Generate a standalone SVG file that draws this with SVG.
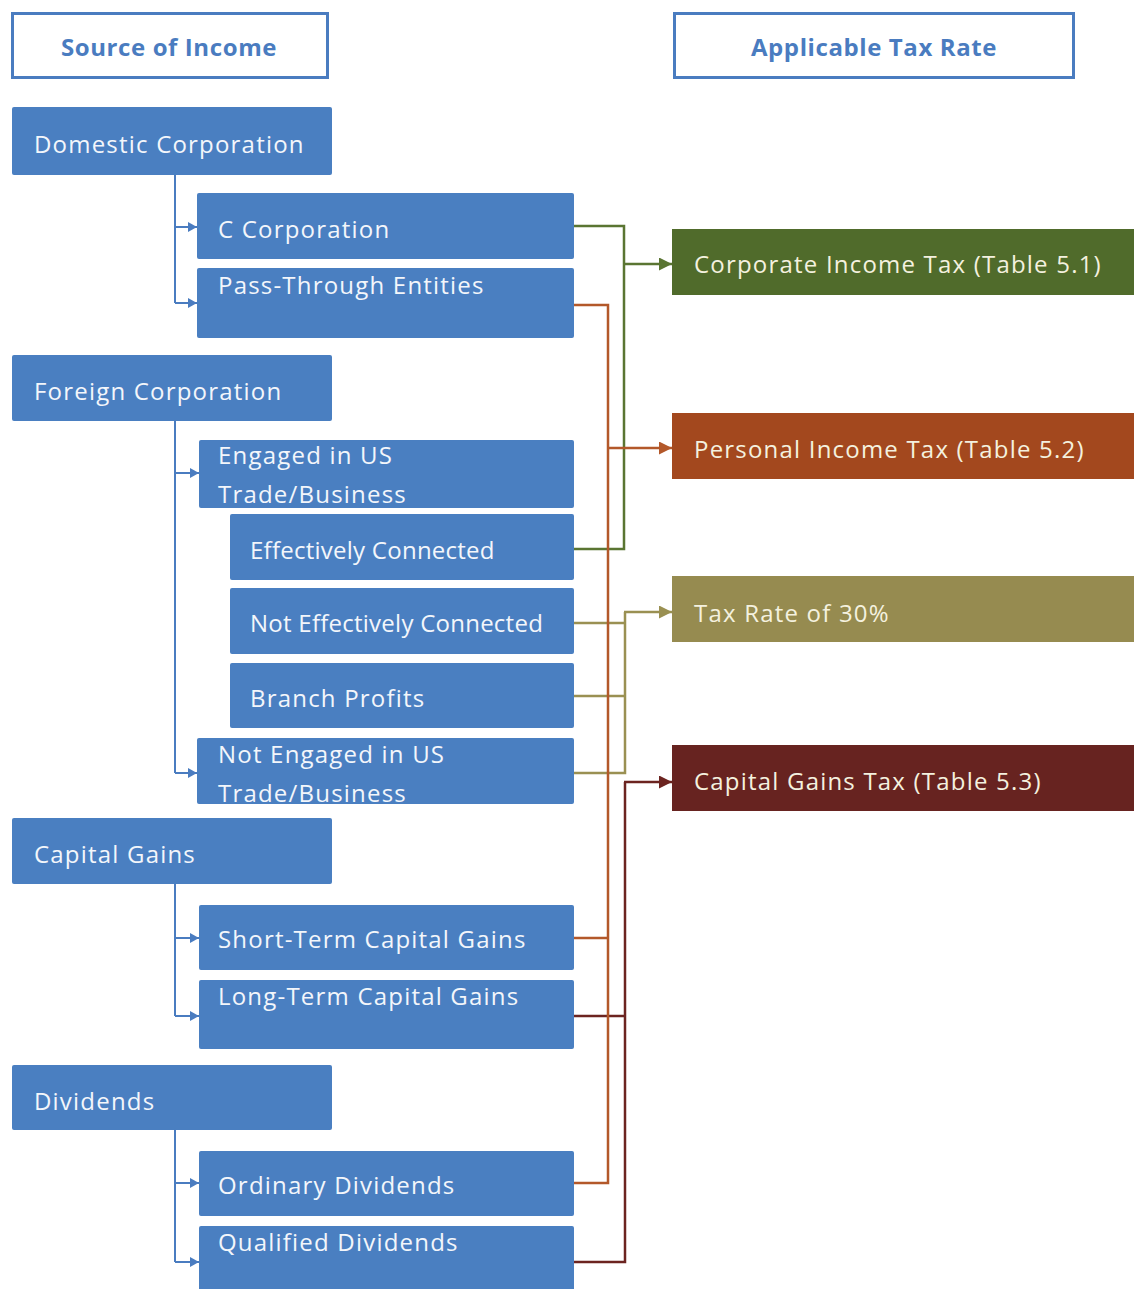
<svg xmlns="http://www.w3.org/2000/svg" width="1134" height="1289" viewBox="0 0 1134 1289">
  <defs>
    <style>
      .hdr { fill: #ffffff; stroke: #4a7cc0; stroke-width: 3; }
      .hdrt { font-family: "Open Sans", "Liberation Sans", sans-serif; font-size: 24px; font-weight: bold; fill: #4a7cc0; text-anchor: middle; letter-spacing: 0.6px; }
      .src { fill: #4a7fc1; }
      .srct { font-family: "Open Sans", "Liberation Sans", sans-serif; font-size: 24px; fill: #f3f6fb; letter-spacing: 1.2px; }
      .tight { letter-spacing: 0.25px; }
      .tgtt { font-family: "Open Sans", "Liberation Sans", sans-serif; font-size: 24px; fill: #f4f1df; letter-spacing: 1.2px; }
      .blue { fill: none; stroke: #4a7cc0; stroke-width: 2; }
      .green { fill: none; stroke: #5a7532; stroke-width: 2.5; }
      .orange { fill: none; stroke: #b3582a; stroke-width: 2.5; }
      .olive { fill: none; stroke: #9a9052; stroke-width: 2.5; }
      .dred { fill: none; stroke: #6c2420; stroke-width: 2.5; }
    </style>
    <marker id="aBlue" markerUnits="userSpaceOnUse" markerWidth="9" markerHeight="10" refX="9" refY="5" orient="auto">
      <path d="M0,0 L9,5 L0,10 z" fill="#4a7cc0"/>
    </marker>
    <marker id="aGreen" markerUnits="userSpaceOnUse" markerWidth="13" markerHeight="13" refX="13" refY="6.5" orient="auto">
      <path d="M0,0 L13,6.5 L0,13 z" fill="#5a7532"/>
    </marker>
    <marker id="aOrange" markerUnits="userSpaceOnUse" markerWidth="13" markerHeight="13" refX="13" refY="6.5" orient="auto">
      <path d="M0,0 L13,6.5 L0,13 z" fill="#b3582a"/>
    </marker>
    <marker id="aOlive" markerUnits="userSpaceOnUse" markerWidth="13" markerHeight="13" refX="13" refY="6.5" orient="auto">
      <path d="M0,0 L13,6.5 L0,13 z" fill="#9a9052"/>
    </marker>
    <marker id="aDred" markerUnits="userSpaceOnUse" markerWidth="13" markerHeight="13" refX="13" refY="6.5" orient="auto">
      <path d="M0,0 L13,6.5 L0,13 z" fill="#6c2420"/>
    </marker>
  </defs>
  <rect x="0" y="0" width="1134" height="1289" fill="#ffffff"/>

  <g id="connectors">
    <!-- hierarchy (blue) -->
    <path class="blue" d="M175 175 V303"/>
    <path class="blue" d="M175 227 H197" marker-end="url(#aBlue)"/>
    <path class="blue" d="M175 303 H197" marker-end="url(#aBlue)"/>
    <path class="blue" d="M175 421 V773"/>
    <path class="blue" d="M175 473 H199" marker-end="url(#aBlue)"/>
    <path class="blue" d="M175 773 H197" marker-end="url(#aBlue)"/>
    <path class="blue" d="M175 884 V1016"/>
    <path class="blue" d="M175 938 H199" marker-end="url(#aBlue)"/>
    <path class="blue" d="M175 1016 H199" marker-end="url(#aBlue)"/>
    <path class="blue" d="M175 1130 V1262"/>
    <path class="blue" d="M175 1183 H199" marker-end="url(#aBlue)"/>
    <path class="blue" d="M175 1262 H199" marker-end="url(#aBlue)"/>
    <!-- corporate income tax (green) -->
    <path class="green" d="M574 226 H624 V549 H574"/>
    <path class="green" d="M624 264 H672" marker-end="url(#aGreen)"/>
    <!-- tax rate 30% (olive) -->
    <path class="olive" d="M574 623 H625"/>
    <path class="olive" d="M574 696 H625"/>
    <path class="olive" d="M574 773 H625 V612"/>
    <path class="olive" d="M624 612 H672" marker-end="url(#aOlive)"/>
    <!-- capital gains tax (dark red) -->
    <path class="dred" d="M574 1016 H625"/>
    <path class="dred" d="M574 1262 H625 V782"/>
    <path class="dred" d="M624 782 H672" marker-end="url(#aDred)"/>
    <!-- personal income tax (orange) -->
    <path class="orange" d="M574 305 H608 V1183 H574"/>
    <path class="orange" d="M574 938 H608"/>
    <path class="orange" d="M608 448 H672" marker-end="url(#aOrange)"/>
  </g>

  <g id="hdr-source">
    <rect class="hdr" x="12.5" y="13.5" width="315" height="64"/>
    <text class="hdrt" x="169" y="56">Source of Income</text>
  </g>
  <g id="hdr-rate">
    <rect class="hdr" x="674.5" y="13.5" width="399" height="64"/>
    <text class="hdrt" x="874" y="56">Applicable Tax Rate</text>
  </g>

  <g id="domestic">
    <rect class="src" x="12" y="107" width="320" height="68" rx="2"/>
    <text class="srct" x="34" y="153">Domestic Corporation</text>
  </g>
  <g id="c-corp">
    <rect class="src" x="197" y="193" width="377" height="66" rx="2"/>
    <text class="srct" x="218" y="238">C Corporation</text>
  </g>
  <g id="pass-through">
    <rect class="src" x="197" y="268" width="377" height="70" rx="2"/>
    <text class="srct" x="218" y="294">Pass-Through Entities</text>
  </g>

  <g id="foreign">
    <rect class="src" x="12" y="355" width="320" height="66" rx="2"/>
    <text class="srct" x="34" y="400">Foreign Corporation</text>
  </g>
  <g id="engaged">
    <rect class="src" x="199" y="440" width="375" height="68" rx="2"/>
    <text class="srct" x="218" y="464">Engaged in US</text>
    <text class="srct" x="218" y="503">Trade/Business</text>
  </g>
  <g id="eff-conn">
    <rect class="src" x="230" y="514" width="344" height="66" rx="2"/>
    <text class="srct tight" x="250" y="559">Effectively Connected</text>
  </g>
  <g id="not-eff-conn">
    <rect class="src" x="230" y="588" width="344" height="66" rx="2"/>
    <text class="srct tight" x="250" y="632">Not Effectively Connected</text>
  </g>
  <g id="branch">
    <rect class="src" x="230" y="663" width="344" height="65" rx="2"/>
    <text class="srct" x="250" y="707">Branch Profits</text>
  </g>
  <g id="not-engaged">
    <rect class="src" x="197" y="738" width="377" height="66" rx="2"/>
    <text class="srct" x="218" y="763">Not Engaged in US</text>
    <text class="srct" x="218" y="802">Trade/Business</text>
  </g>

  <g id="capital-gains">
    <rect class="src" x="12" y="818" width="320" height="66" rx="2"/>
    <text class="srct" x="34" y="863">Capital Gains</text>
  </g>
  <g id="short-term">
    <rect class="src" x="199" y="905" width="375" height="65" rx="2"/>
    <text class="srct" x="218" y="948">Short-Term Capital Gains</text>
  </g>
  <g id="long-term">
    <rect class="src" x="199" y="980" width="375" height="69" rx="2"/>
    <text class="srct" x="218" y="1005">Long-Term Capital Gains</text>
  </g>

  <g id="dividends">
    <rect class="src" x="12" y="1065" width="320" height="65" rx="2"/>
    <text class="srct" x="34" y="1110">Dividends</text>
  </g>
  <g id="ordinary">
    <rect class="src" x="199" y="1151" width="375" height="65" rx="2"/>
    <text class="srct" x="218" y="1194">Ordinary Dividends</text>
  </g>
  <g id="qualified">
    <rect class="src" x="199" y="1226" width="375" height="70" rx="2"/>
    <text class="srct" x="218" y="1251">Qualified Dividends</text>
  </g>

  <g id="corporate-tax">
    <rect x="672" y="229" width="470" height="66" fill="#506b2b"/>
    <text class="tgtt" x="694" y="273">Corporate Income Tax (Table 5.1)</text>
  </g>
  <g id="personal-tax">
    <rect x="672" y="413" width="470" height="66" fill="#a3481e"/>
    <text class="tgtt" x="694" y="458">Personal Income Tax (Table 5.2)</text>
  </g>
  <g id="rate-30">
    <rect x="672" y="576" width="470" height="66" fill="#968b50"/>
    <text class="tgtt" x="694" y="622">Tax Rate of 30%</text>
  </g>
  <g id="capital-gains-tax">
    <rect x="672" y="745" width="470" height="66" fill="#672320"/>
    <text class="tgtt" x="694" y="790">Capital Gains Tax (Table 5.3)</text>
  </g>
</svg>
